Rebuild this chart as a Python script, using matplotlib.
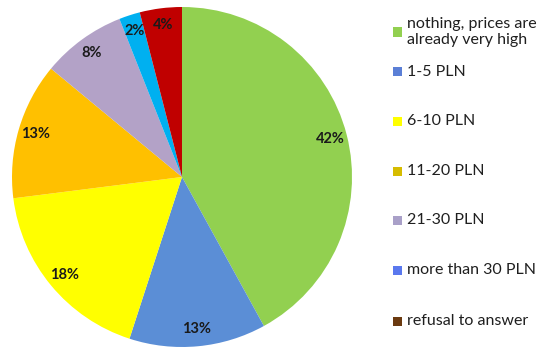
import matplotlib.pyplot as plt
from matplotlib.patches import Rectangle

plt.rcParams['font.family'] = ['Lato', 'DejaVu Sans']

labels = ['nothing, prices are\nalready very high', '1-5 PLN', '6-10 PLN', '11-20 PLN',
          '21-30 PLN', 'more than 30 PLN', 'refusal to answer']
shares = [42, 13, 18, 13, 8, 2, 4]
pie_colors = ['#92D050', '#5B8ED6', '#FFFF00', '#FFC000', '#B3A2C7', '#00B0F0', '#C00000']
legend_colors = ['#92D050', '#5B7FD6', '#FFFF00', '#D6BC00', '#A9A0C8', '#5A78EE', '#6B3A10']

fig = plt.figure(figsize=(5.5, 3.57), dpi=100)
ax = fig.add_axes([12 / 550, 10 / 357, 340 / 550, 340 / 357])
wedges, texts, autotexts = ax.pie(shares, colors=pie_colors, startangle=90, counterclock=False,
                                  radius=1, autopct='%d%%', pctdistance=0.9,
                                  textprops=dict(fontsize=10.5, fontweight='bold', color='#1A1A1A'))
ax.set_xlim(-1, 1)
ax.set_ylim(-1, 1)

# legend drawn by hand, rows are not evenly spaced in the original
row_y = [32, 72, 121, 171, 220, 270, 321]
for lab, c, y in zip(labels, legend_colors, row_y):
    yf = 1 - y / 357
    fig.patches.append(Rectangle((393 / 550, yf - 4.5 / 357), 9 / 550, 9 / 357,
                                 facecolor=c, edgecolor='none', transform=fig.transFigure))
    fig.text(407 / 550, yf, lab, fontsize=11.5, va='center', ha='left', color='#1F1F1F',
             linespacing=1.2)

fig.savefig('out.png', dpi=100)
